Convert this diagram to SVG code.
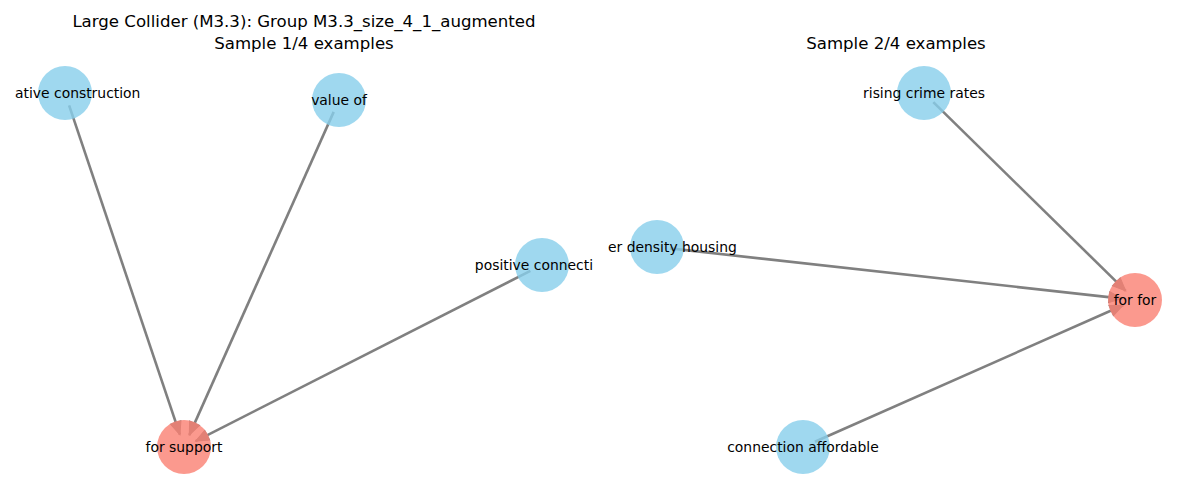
<svg xmlns="http://www.w3.org/2000/svg" width="1200" height="500" viewBox="0 0 1200 500">
<style>
.title{font-family:"DejaVu Sans",sans-serif;font-size:16.6px;fill:#000;text-anchor:middle}
.lbl{font-family:"DejaVu Sans",sans-serif;font-size:13.9px;fill:#000}
.edge{stroke:#808080;stroke-width:2.6;fill:none;marker-end:url(#arr)}
.blue{fill:#87CEEB;fill-opacity:0.8}
.red{fill:#FA8072;fill-opacity:0.8}
</style>
<defs>
<marker id="arr" markerUnits="userSpaceOnUse" markerWidth="16" markerHeight="14" viewBox="0 0 16 14" refX="14" refY="7" orient="auto">
<path d="M1,1.5 L14,7 L1,12.5 z" fill="#808080" stroke="#808080" stroke-width="1"/>
</marker>
</defs>
<rect width="1200" height="500" fill="#fff"/>
<text class="title" x="304" y="27">Large Collider (M3.3): Group M3.3_size_4_1_augmented</text>
<text class="title" x="304" y="49">Sample 1/4 examples</text>
<text class="title" x="896" y="49">Sample 2/4 examples</text>
<g id="connectors">
<line class="edge" x1="69.1" y1="105.3" x2="179.9" y2="434.7"/>
<line class="edge" x1="333.7" y1="111.9" x2="189.3" y2="435.1"/>
<line class="edge" x1="530.4" y1="270.9" x2="195.6" y2="441.1"/>
<line class="edge" x1="933.3" y1="102.1" x2="1125.7" y2="290.9"/>
<line class="edge" x1="669.9" y1="248.4" x2="1122.1" y2="298.6"/>
<line class="edge" x1="814.9" y1="441.7" x2="1123.1" y2="305.3"/>
</g>
<g id="n_ative_construction"><circle class="blue" cx="65" cy="93" r="27"/><text class="lbl" x="15" y="97.5">ative construction</text></g>
<g id="n_value_of"><circle class="blue" cx="339" cy="100" r="27"/><text class="lbl" x="339" y="104.5" text-anchor="middle">value of</text></g>
<g id="n_positive_connecti"><circle class="blue" cx="542" cy="265" r="27"/><text class="lbl" x="593" y="269.5" text-anchor="end">positive connecti</text></g>
<g id="n_for_support"><circle class="red" cx="184" cy="447" r="27"/><text class="lbl" x="184" y="451.5" text-anchor="middle">for support</text></g>
<g id="n_rising_crime_rates"><circle class="blue" cx="924" cy="93" r="27"/><text class="lbl" x="924" y="97.5" text-anchor="middle">rising crime rates</text></g>
<g id="n_er_density_housing"><circle class="blue" cx="657" cy="247" r="27"/><text class="lbl" x="608" y="251.5">er density housing</text></g>
<g id="n_for_for"><circle class="red" cx="1135" cy="300" r="27"/><text class="lbl" x="1135" y="304.5" text-anchor="middle">for for</text></g>
<g id="n_connection_affordable"><circle class="blue" cx="803" cy="447" r="27"/><text class="lbl" x="803" y="451.5" text-anchor="middle">connection affordable</text></g>
</svg>
